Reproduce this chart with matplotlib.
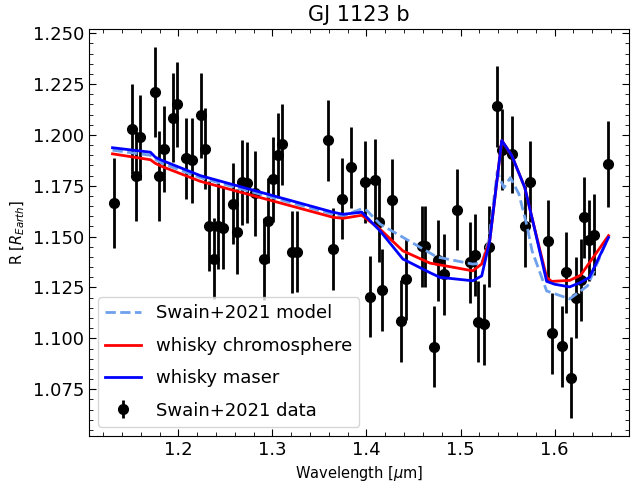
import numpy as np
import matplotlib
matplotlib.use("Agg")
import matplotlib.pyplot as plt
from matplotlib.ticker import MultipleLocator

# Swain+2021 transmission spectrum points
wavelength = [1.1314, 1.1505, 1.1550, 1.1597, 1.1750, 1.1795, 1.1844, 1.1943, 1.1990, 1.2085,
              1.2145, 1.2240, 1.2287, 1.2330, 1.2376, 1.2421, 1.2474, 1.2580, 1.2626, 1.2676,
              1.2729, 1.2810, 1.2912, 1.2958, 1.3005, 1.3064, 1.3103, 1.3206, 1.3260, 1.3588,
              1.3641, 1.3743, 1.3836, 1.3987, 1.4037, 1.4086, 1.4133, 1.4170, 1.4267, 1.4372,
              1.4422, 1.4595, 1.4625, 1.4716, 1.4762, 1.4826, 1.4957, 1.5098, 1.5158, 1.5186,
              1.5250, 1.5303, 1.5392, 1.5445, 1.5545, 1.5682, 1.5735, 1.5930, 1.5975, 1.6077,
              1.6117, 1.6177, 1.6223, 1.6276, 1.6310, 1.6364, 1.6417, 1.6565]
radius = [1.1666, 1.2030, 1.1797, 1.1988, 1.2210, 1.1797, 1.1930, 1.2085, 1.2150, 1.1885,
          1.1875, 1.2096, 1.1933, 1.1553, 1.1392, 1.1553, 1.1543, 1.1662, 1.1525, 1.1767,
          1.1765, 1.1713, 1.1390, 1.1578, 1.1782, 1.1900, 1.1953, 1.1424, 1.1426, 1.1973,
          1.1440, 1.1687, 1.1840, 1.1768, 1.1205, 1.1780, 1.1574, 1.1238, 1.1682, 1.1085,
          1.1290, 1.1452, 1.1452, 1.0959, 1.1384, 1.1315, 1.1632, 1.1373, 1.1410, 1.1082,
          1.1069, 1.1450, 1.2140, 1.1928, 1.1904, 1.1551, 1.1770, 1.1478, 1.1025, 1.0960,
          1.1325, 1.0807, 1.1200, 1.1287, 1.1595, 1.1482, 1.1510, 1.1858]
radius_err = [0.022, 0.022, 0.022, 0.021, 0.022, 0.022, 0.021, 0.022, 0.021, 0.020,
              0.021, 0.021, 0.020, 0.022, 0.020, 0.021, 0.020, 0.020, 0.021, 0.021,
              0.020, 0.021, 0.020, 0.021, 0.021, 0.021, 0.020, 0.020, 0.020, 0.020,
              0.020, 0.020, 0.020, 0.020, 0.020, 0.020, 0.020, 0.020, 0.020, 0.020,
              0.020, 0.020, 0.020, 0.020, 0.020, 0.020, 0.020, 0.020, 0.020, 0.020,
              0.020, 0.020, 0.020, 0.020, 0.019, 0.020, 0.020, 0.020, 0.020, 0.020,
              0.020, 0.020, 0.020, 0.020, 0.020, 0.020, 0.020, 0.021]

# Swain+2021 model
swain_wl = [1.1300, 1.1703, 1.1756, 1.1830, 1.2233, 1.3645, 1.3750, 1.3880, 1.3950, 1.4005,
            1.4143, 1.4748, 1.5130, 1.5225, 1.5300, 1.5390, 1.5460, 1.5530, 1.5620, 1.5710,
            1.5760, 1.5915, 1.6160, 1.6350, 1.6573]
swain_r = [1.1925, 1.1900, 1.1880, 1.1860, 1.1790, 1.1610, 1.1600, 1.1625, 1.1637, 1.1628,
           1.1562, 1.1400, 1.1365, 1.1370, 1.1480, 1.1820, 1.1740, 1.1790, 1.1710, 1.1545,
           1.1430, 1.1233, 1.1194, 1.1258, 1.1500]

# whisky chromosphere model
chrom_wl = [1.1300, 1.1703, 1.1756, 1.1830, 1.2233, 1.3645, 1.3750, 1.3950, 1.4143, 1.4387,
            1.4674, 1.5130, 1.5225, 1.5310, 1.5438, 1.5544, 1.5682, 1.5767, 1.5915, 1.5968,
            1.6160, 1.6276, 1.6573]
chrom_r = [1.1907, 1.1878, 1.1860, 1.1844, 1.1772, 1.1595, 1.1590, 1.1605, 1.1537, 1.1430,
           1.1370, 1.1332, 1.1366, 1.1480, 1.1973, 1.1899, 1.1742, 1.1578, 1.1300, 1.1280,
           1.1285, 1.1310, 1.1505]

# whisky maser model
maser_wl = [1.1300, 1.1703, 1.1756, 1.1830, 1.2233, 1.3645, 1.3750, 1.3950, 1.4143, 1.4387,
            1.4674, 1.4780, 1.5130, 1.5225, 1.5310, 1.5438, 1.5544, 1.5682, 1.5767, 1.5915,
            1.6000, 1.6160, 1.6276, 1.6370, 1.6573]
maser_r = [1.1937, 1.1915, 1.1890, 1.1874, 1.1800, 1.1620, 1.1610, 1.1620, 1.1529, 1.1390,
           1.1323, 1.1300, 1.1283, 1.1307, 1.1480, 1.1973, 1.1899, 1.1742, 1.1578, 1.1280,
           1.1266, 1.1253, 1.1275, 1.1300, 1.1496]

fig = plt.figure(figsize=(6.33, 4.92), dpi=100)
ax = fig.add_axes([0.1406, 0.1138, 0.853, 0.827])

ax.plot(swain_wl, swain_r, "--", color="#6ea0ec", lw=2, label="Swain+2021 model", zorder=3)
ax.plot(chrom_wl, chrom_r, "-", color="red", lw=2, label="whisky chromosphere", zorder=4)
ax.plot(maser_wl, maser_r, "-", color="blue", lw=2, label="whisky maser", zorder=5)
ax.errorbar(wavelength, radius, yerr=radius_err, fmt="o", color="black", ms=7,
            elinewidth=2, label="Swain+2021 data", zorder=2)

ax.set_xlim(1.105, 1.679)
ax.set_ylim(1.052, 1.252)
ax.xaxis.set_major_locator(MultipleLocator(0.1))
ax.xaxis.set_minor_locator(MultipleLocator(0.02))
ax.yaxis.set_major_locator(MultipleLocator(0.025))
ax.yaxis.set_minor_locator(MultipleLocator(0.005))
ax.tick_params(which="both", direction="in", top=True, right=True, labelsize=13)
ax.tick_params(which="major", length=5)
ax.tick_params(which="minor", length=3)

ax.set_xlabel(r"Wavelength [$\mu$m]", fontsize=10.5)
ax.set_ylabel(r"R [$R_{Earth}$]", fontsize=10.5)
ax.set_title("GJ 1123 b", fontsize=15)
ax.legend(loc="lower left", fontsize=13, labelspacing=0.8, borderpad=0.4)

fig.savefig("out.png", dpi=100)
